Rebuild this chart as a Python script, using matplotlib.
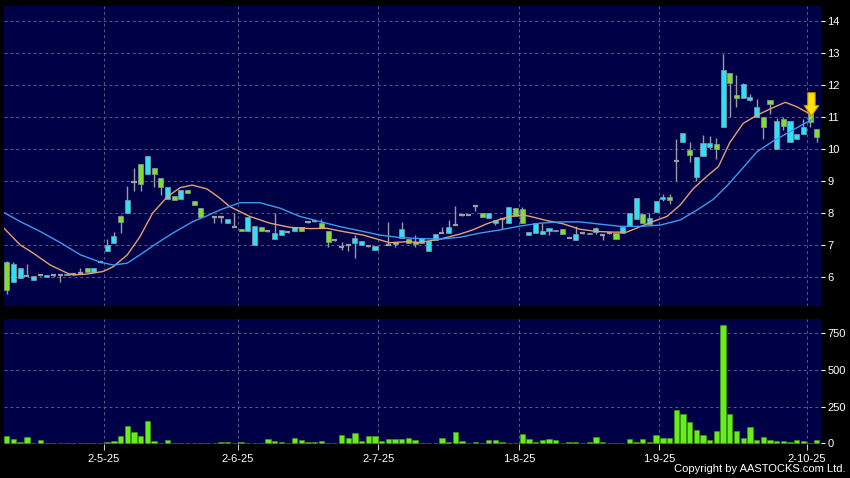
import matplotlib
matplotlib.use('Agg')
import matplotlib.pyplot as plt
from matplotlib.patches import Polygon

# ---------------- data ----------------
opens = [6.47, 5.84, 5.96, 6.04, 5.90, 6.05, 6.00, 6.05, 6.05, 6.05,
         6.08, 6.12, 6.29, 6.15, 6.46, 6.80, 7.05, 7.90, 7.99, 8.98,
         9.52, 9.22, 9.40, 9.08, 8.43, 8.54, 8.43, 8.72, 8.37, 8.15,
         None, 7.88, 7.88, 7.67, 7.56, 7.49, 7.44, 7.01, 7.57, 7.42,
         7.20, 7.31, 7.40, 7.42, 7.57, 7.71, 7.75, 7.70, 7.45, 7.14,
         6.92, 7.00, 7.05, 7.00, 6.97, 6.83, None, 7.00, 7.03, 7.21,
         7.19, 7.10, 7.07, 6.82, 7.16, 7.38, 7.38, 7.62, 7.94, 7.95,
         8.22, 7.99, 7.83, 7.68, 7.80, 7.70, 8.16, 8.12, 7.30, 7.38,
         7.33, 7.43, 7.42, 7.49, 7.23, 7.15, 7.36, 7.34, 7.40, 7.30,
         7.36, 7.36, 7.36, 7.60, 7.82, 7.97, 7.65, 8.02, 8.43, 8.49,
         9.63, 10.23, 9.97, 9.13, 9.79, 10.05, 10.16, 10.68, 12.39, 11.69,
         11.58, 11.53, 11.00, 10.99, 11.53, 10.00, 10.93, 10.21, 10.30, 10.47,
         11.12, 10.62]
highs = [6.50, 6.47, 6.27, 6.41, 6.03, 6.10, 6.05, 6.10, 6.05, 6.10,
         6.10, 6.28, 6.29, 6.29, 6.47, 7.19, 7.40, 7.93, 8.84, 9.40,
         9.52, 9.79, 9.40, 9.08, 8.80, 8.54, 8.72, 8.72, 8.37, 8.15,
         None, 7.88, 7.88, 7.80, 8.00, 7.49, 7.88, 7.60, 7.57, 7.44,
         7.99, 7.46, 7.42, 7.57, 7.57, 7.73, 7.77, 7.80, 7.45, 7.16,
         7.10, 7.00, 7.31, 7.12, 6.99, 6.97, None, 7.73, 7.10, 7.73,
         7.19, 7.30, 7.21, 7.13, 7.34, 7.57, 7.78, 8.22, 7.98, 7.97,
         8.22, 7.99, 7.99, 7.78, 7.80, 8.20, 8.16, 8.20, 7.41, 7.70,
         7.70, 7.52, 7.48, 7.49, 7.25, 7.60, 7.38, 7.38, 7.55, 7.30,
         7.38, 7.36, 7.57, 7.99, 8.46, 7.97, 8.00, 8.37, 8.60, 8.60,
         10.30, 10.51, 10.22, 9.76, 10.43, 10.40, 10.33, 12.97, 12.39, 12.30,
         12.05, 11.73, 11.56, 10.99, 11.53, 10.98, 11.00, 10.89, 10.47, 10.95,
         11.15, 10.62]
lows = [5.47, 5.84, 5.96, 6.03, 5.90, 6.02, 6.00, 6.00, 5.85, 6.05,
        6.06, 6.12, 6.15, 6.15, 6.45, 6.80, 7.05, 7.37, 7.99, 8.69,
        8.68, 9.22, 8.81, 8.56, 8.43, 8.40, 8.43, 8.61, 8.24, 7.88,
        None, 7.70, 7.70, 7.67, 7.56, 7.43, 7.44, 7.01, 7.45, 7.40,
        7.20, 7.31, 7.38, 7.42, 7.42, 7.69, 7.73, 7.52, 6.95, 7.12,
        6.84, 6.82, 6.58, 7.00, 6.95, 6.83, None, 7.00, 6.95, 7.21,
        7.07, 6.95, 7.07, 6.82, 7.16, 7.38, 7.38, 7.62, 7.90, 7.93,
        8.07, 7.87, 7.83, 7.62, 7.49, 7.70, 7.91, 7.70, 7.30, 7.38,
        7.33, 7.30, 7.42, 7.33, 7.21, 7.15, 7.34, 7.34, 7.35, 7.14,
        7.34, 7.20, 7.36, 7.60, 7.82, 7.70, 7.65, 8.02, 8.38, 8.27,
        9.00, 10.23, 9.59, 9.00, 9.79, 10.00, 9.69, 10.68, 11.00, 11.30,
        11.58, 11.50, 11.00, 10.32, 11.10, 10.00, 10.60, 10.21, 10.30, 10.47,
        10.70, 10.23]
closes = [5.59, 6.41, 6.27, 6.04, 6.03, 6.05, 6.05, 6.05, 6.05, 6.10,
          6.08, 6.12, 6.15, 6.29, 6.46, 6.99, 7.29, 7.73, 8.41, 8.98,
          8.90, 9.79, 9.22, 8.82, 8.80, 8.40, 8.72, 8.61, 8.24, 7.88,
          None, 7.88, 7.88, 7.80, 7.56, 7.43, 7.88, 7.60, 7.45, 7.42,
          7.36, 7.46, 7.40, 7.57, 7.42, 7.71, 7.75, 7.52, 7.10, 7.14,
          6.92, 7.00, 7.21, 7.12, 6.97, 6.97, None, 7.00, 7.10, 7.49,
          7.07, 7.03, 7.21, 7.13, 7.34, 7.38, 7.57, 7.62, 7.94, 7.95,
          8.22, 7.87, 7.99, 7.78, 7.80, 8.20, 7.91, 7.70, 7.41, 7.70,
          7.44, 7.52, 7.48, 7.33, 7.23, 7.33, 7.36, 7.38, 7.52, 7.30,
          7.36, 7.20, 7.57, 7.99, 8.46, 7.70, 7.83, 8.37, 8.49, 8.40,
          9.63, 10.51, 9.81, 9.76, 10.20, 10.18, 10.00, 12.47, 12.05, 11.58,
          12.02, 11.61, 11.30, 10.70, 11.41, 10.86, 10.72, 10.89, 10.47, 10.70,
          10.85, 10.39]
volumes = [50, 30, 9, 43, 2, 23, 2, 2, 1, 5,
           1, 3, 5, 3, 2, 11, 18, 50, 118, 75,
           52, 155, 16, 2, 20, 3, 2, 2, 2, 3,
           0, 2, 11, 11, 2, 11, 2, 1, 1, 30,
           16, 11, 2, 36, 20, 11, 7, 16, 3, 5,
           57, 36, 70, 16, 50, 50, 16, 27, 27, 32,
           39, 20, 3, 2, 3, 39, 7, 75, 18, 3,
           7, 2, 20, 25, 7, 2, 1, 64, 27, 9,
           25, 32, 23, 2, 7, 7, 2, 11, 41, 7,
           5, 2, 1, 30, 7, 32, 7, 55, 34, 39,
           225, 198, 148, 91, 57, 23, 82, 805, 200, 82,
           36, 109, 20, 45, 20, 16, 16, 9, 20, 16,
           5, 20]

# moving averages (bar position, value)
ma_short_pos = [-0.4, 2, 3.9, 6.5, 9, 9.9, 12, 14.4, 15.9, 18, 19.9, 21.8, 24, 25.9,
                27.7, 29.9, 31.6, 33.3, 36.3, 39.3, 42.3, 45.3, 47.8, 50.2, 53.2,
                55.7, 57.2, 59.8, 61.7, 64.7, 67.7, 69.6, 71.7, 73.7, 75.2, 77.1,
                78.6, 80.7, 83.1, 85.6, 88.2, 90.6, 92.6, 94.6, 96.5, 98.6, 100.6,
                102.5, 104.6, 106.3, 108, 110, 112.1, 114, 116.3, 118, 119.5, 120.4]
ma_short_val = [7.52, 7.0, 6.75, 6.37, 6.12, 6.06, 6.09, 6.17, 6.32, 6.69, 7.26, 8.0, 8.51,
                8.79, 8.87, 8.75, 8.5, 8.2, 7.89, 7.68, 7.55, 7.51, 7.52, 7.42, 7.31,
                7.16, 7.07, 7.1, 7.08, 7.18, 7.34, 7.47, 7.66, 7.8, 7.89, 7.94, 7.87,
                7.76, 7.66, 7.49, 7.42, 7.40, 7.40, 7.57, 7.73, 7.89, 8.25, 8.75,
                9.15, 9.45, 10.2, 10.8, 11.06, 11.25, 11.46, 11.32, 11.15, 11.06]
ma_long_pos = [-0.4, 2, 5, 8, 11, 14, 15.9, 18, 19.9, 22.4, 24.8, 27.8, 29.9, 31.8, 34.8,
               37.8, 40.8, 43.8, 46.8, 49.8, 52.8, 55.7, 58.7, 61.7, 64.7, 67.7, 70.7,
               73.7, 76.7, 79.7, 82.6, 85.6, 88.6, 91.6, 94.6, 97.6, 100.6, 103.1,
               105.5, 107.6, 109.5, 112.1, 114.5, 117, 119, 120.4]
ma_long_val = [8.01, 7.73, 7.42, 7.07, 6.69, 6.46, 6.37, 6.43, 6.69, 7.05, 7.37, 7.73,
               7.91, 8.09, 8.32, 8.32, 8.15, 7.89, 7.73, 7.57, 7.44, 7.31, 7.23, 7.2,
               7.18, 7.24, 7.37, 7.47, 7.59, 7.68, 7.72, 7.72, 7.65, 7.58, 7.58, 7.62,
               7.78, 8.09, 8.42, 8.85, 9.3, 9.92, 10.25, 10.54, 10.78, 10.93]

date_labels = ['2-5-25', '2-6-25', '2-7-25', '1-8-25', '1-9-25', '2-10-25']
date_pos = [14.5, 34.5, 55.5, 76.5, 97.5, 119.5]
price_ticks = [6, 7, 8, 9, 10, 11, 12, 13, 14]
vol_ticks = [0, 250, 500, 750]
signal_bar = 120

# ---------------- style ----------------
BG = '#000046'
GRID = '#5a5a8e'
UP = '#2ee0f4'
DOWN = '#7ee02c'
DOJI = '#9c9ca4'
WICK = '#9a9aa2'
VOL = '#66ee1a'
FONT = 'Liberation Sans'

W, H = 850, 478
fig = plt.figure(figsize=(W / 100, H / 100), dpi=100, facecolor='black')


def rect(l, t, r, b):
    return [l / W, 1 - b / H, (r - l) / W, (b - t) / H]


ax = fig.add_axes(rect(3.5, 5.7, 820.5, 306))
axv = fig.add_axes(rect(3.5, 318.7, 820.5, 444))

for a in (ax, axv):
    a.set_facecolor(BG)
    for s in a.spines.values():
        s.set_visible(False)
    a.set_xlim(-0.49, 121.55)
    for p in date_pos:
        a.axvline(p, color=GRID, lw=0.7, ls=(0, (3, 3)), zorder=1)
    a.yaxis.tick_right()
    a.tick_params(axis='y', colors='white', labelsize=8, length=3, width=0.8, pad=2)

# price panel
ax.set_ylim(5.09, 14.48)
ax.set_yticks(price_ticks)
ax.set_yticklabels([str(t) for t in price_ticks], fontfamily=FONT, color='white', fontsize=8)
for t in price_ticks:
    ax.axhline(t, color=GRID, lw=0.7, ls=(0, (3, 3)), zorder=1)
ax.set_xticks([])

for i in range(len(opens)):
    o, h, l, c = opens[i], highs[i], lows[i], closes[i]
    if o is None:
        continue
    ax.vlines(i, l, h, color=WICK, lw=1.0, zorder=2)
    if abs(c - o) < 1e-9:
        ax.hlines(c, i - 0.38, i + 0.38, color=DOJI, lw=1.6, zorder=3)
    else:
        col = UP if c > o else DOWN
        ax.bar(i, abs(c - o), bottom=min(o, c), width=0.76, color=col,
               edgecolor='#8a9aa8', linewidth=0.5, zorder=3)

ax.plot(ma_short_pos, ma_short_val, color='#e8a070', lw=1.0, zorder=4)
ax.plot(ma_long_pos, ma_long_val, color='#3a9cf0', lw=1.0, zorder=4)

# signal arrow
xc = signal_bar + 0.2
arrow = Polygon([(xc - 0.55, 11.76), (xc + 0.55, 11.76), (xc + 0.55, 11.36),
                 (xc + 1.1, 11.36), (xc, 11.03), (xc - 1.1, 11.36), (xc - 0.55, 11.36)],
                closed=True, facecolor='#ffe400', edgecolor='#c88a00', lw=0.8, zorder=6)
ax.add_patch(arrow)

# volume panel
axv.set_ylim(-4, 850)
axv.set_yticks(vol_ticks)
axv.set_yticklabels([str(t) for t in vol_ticks], fontfamily=FONT, color='white', fontsize=8)
for t in vol_ticks[1:]:
    axv.axhline(t, color=GRID, lw=0.7, ls=(0, (3, 3)), zorder=1)
axv.bar(range(len(volumes)), volumes, width=0.8, color=VOL, edgecolor='#4aa010',
        linewidth=0.4, zorder=3)
axv.set_xticks(date_pos)
axv.set_xticklabels(date_labels, fontfamily=FONT, fontsize=8, color='white')
axv.tick_params(axis='x', colors='#cccccc', length=4, width=0.8, pad=3, labelcolor='white')

fig.text(845 / W, 1 - 469 / H, 'Copyright by AASTOCKS.com Ltd.', ha='right', va='center',
         color='white', fontsize=8, fontfamily=FONT)

fig.savefig('out.png', dpi=100, facecolor='black')
